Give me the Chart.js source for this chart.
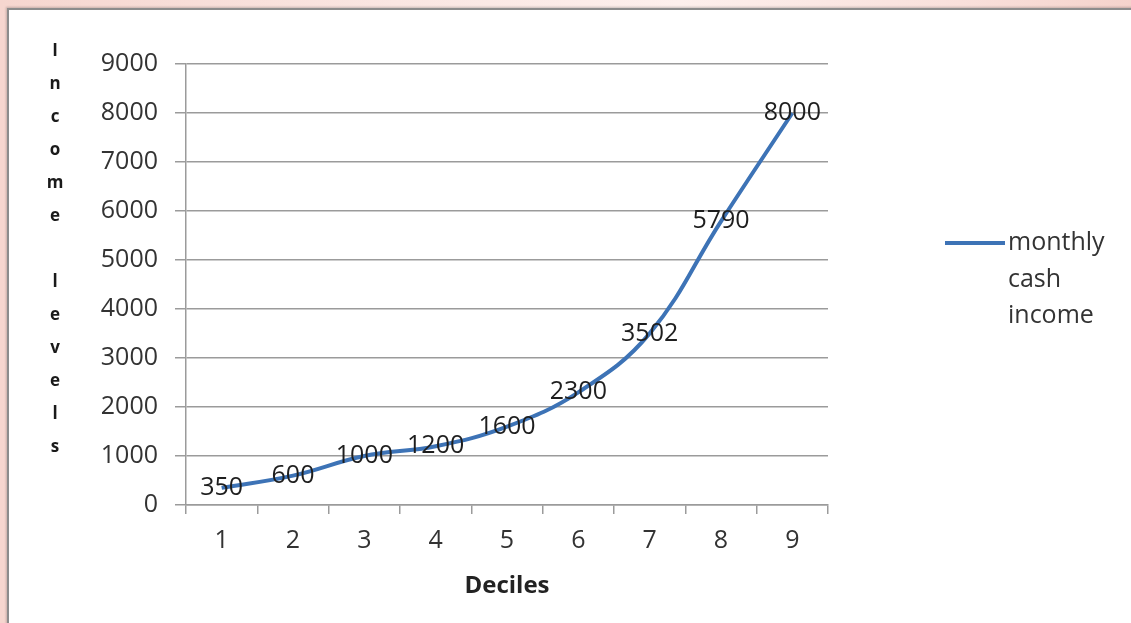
<!DOCTYPE html>
<html>
<head>
<meta charset="utf-8">
<script src="https://cdn.jsdelivr.net/npm/chart.js@4.4.1/dist/chart.umd.min.js"></script>
<style>
  html, body { margin: 0; padding: 0; width: 1131px; height: 623px; overflow: hidden; }
  body {
    position: relative;
    background: linear-gradient(90deg, #f6d6cf 0%, #fae6e2 35%, #fdefec 60%, #f9e0db 85%, #f5d3cc 100%);
  }
  #sheet {
    position: absolute; left: 7px; top: 8px; width: 1140px; height: 630px;
    background: #fff;
    border-left: 2px solid #8c8c8c; border-top: 2px solid #8c8c8c;
    box-shadow: -1px -1px 2px rgba(0,0,0,0.2);
  }
  #c { position: absolute; left: 0; top: 0; }
</style>
</head>
<body>
<div id="sheet"></div>
<canvas id="c" width="1131" height="623"></canvas>
<script>
// Income by decile
const deciles = ['1', '2', '3', '4', '5', '6', '7', '8', '9'];
const monthlyCashIncome = [350, 600, 1000, 1200, 1600, 2300, 3502, 5790, 8000];
const seriesLabel = 'monthly cash income';
const legendLines = ['monthly', 'cash', 'income'];
const yMin = 0;
const yMax = 9000;
const yStep = 1000;
const yTitleLetters = ['I', 'n', 'c', 'o', 'm', 'e', '', 'l', 'e', 'v', 'e', 'l', 's'];
const xTitle = 'Deciles';

const FONT = "'Open Sans', 'Liberation Sans', sans-serif";
const LINE_BLUE = '#3d73b6';
const GRID = '#9b9b9b';

// Stacked, upright letters for the vertical axis title
const yTitlePlugin = {
  id: 'yTitleStack',
  afterDraw(chart) {
    const ctx = chart.ctx;
    const area = chart.chartArea;
    ctx.save();
    ctx.font = 'bold 17px ' + FONT;
    ctx.fillStyle = '#1a1a1a';
    ctx.textAlign = 'center';
    ctx.textBaseline = 'middle';
    yTitleLetters.forEach((ch, i) => {
      ctx.fillText(ch, area.left - 131, area.top - 13 + i * 33);
    });
    ctx.restore();
  }
};

// Value labels centred on each point
const valueLabelPlugin = {
  id: 'valueLabels',
  afterDatasetsDraw(chart) {
    const ctx = chart.ctx;
    ctx.save();
    ctx.font = '25px ' + FONT;
    ctx.fillStyle = '#1e1e1e';
    ctx.textAlign = 'center';
    ctx.textBaseline = 'middle';
    chart.data.datasets.forEach((ds, di) => {
      const meta = chart.getDatasetMeta(di);
      meta.data.forEach((pt, i) => {
        ctx.fillText(String(ds.data[i]), pt.x, pt.y);
      });
    });
    ctx.restore();
  }
};

// Legend on the right with wrapped series name
const sideLegendPlugin = {
  id: 'sideLegend',
  afterDraw(chart) {
    const ctx = chart.ctx;
    const area = chart.chartArea;
    const ds = chart.data.datasets[0];
    const x0 = area.right + 117;
    const y0 = area.top + 179;
    ctx.save();
    ctx.strokeStyle = ds.borderColor;
    ctx.lineWidth = 4;
    ctx.beginPath();
    ctx.moveTo(x0, y0);
    ctx.lineTo(x0 + 60, y0);
    ctx.stroke();
    ctx.font = '25px ' + FONT;
    ctx.fillStyle = '#333';
    ctx.textAlign = 'left';
    ctx.textBaseline = 'middle';
    legendLines.forEach((t, i) => {
      ctx.fillText(t, x0 + 63, y0 + i * 36.5);
    });
    ctx.restore();
  }
};

new Chart(document.getElementById('c'), {
  type: 'line',
  data: {
    labels: deciles,
    datasets: [{
      label: seriesLabel,
      data: monthlyCashIncome,
      borderColor: LINE_BLUE,
      backgroundColor: LINE_BLUE,
      borderWidth: 4,
      tension: 0.4,
      pointRadius: 0,
      fill: false
    }]
  },
  options: {
    responsive: false,
    animation: false,
    layout: { padding: { left: 70, right: 303, top: 64, bottom: 0 } },
    plugins: {
      legend: { display: false },
      tooltip: { enabled: false }
    },
    scales: {
      x: {
        offset: true,
        grid: { offset: true, drawOnChartArea: false, drawTicks: true, tickLength: 9, color: GRID, lineWidth: 1.5 },
        border: { color: GRID, width: 1.5 },
        ticks: { font: { family: FONT, size: 25 }, color: '#333', padding: 12 },
        title: {
          display: true, text: xTitle, color: '#222',
          font: { family: FONT, size: 24, weight: 'bold' },
          padding: { top: 0, bottom: 22 }
        },
        afterFit(scale) { scale.height = 118; }
      },
      y: {
        min: yMin,
        max: yMax,
        ticks: {
          stepSize: yStep,
          font: { family: FONT, size: 25 },
          color: '#333',
          padding: 17,
          callback: (v) => String(v)
        },
        grid: { color: GRID, lineWidth: 1.5, tickLength: 11 },
        border: { color: GRID, width: 1.5 },
        afterFit(scale) { scale.width = 116; }
      }
    }
  },
  plugins: [yTitlePlugin, valueLabelPlugin, sideLegendPlugin]
});
</script>
</body>
</html>
